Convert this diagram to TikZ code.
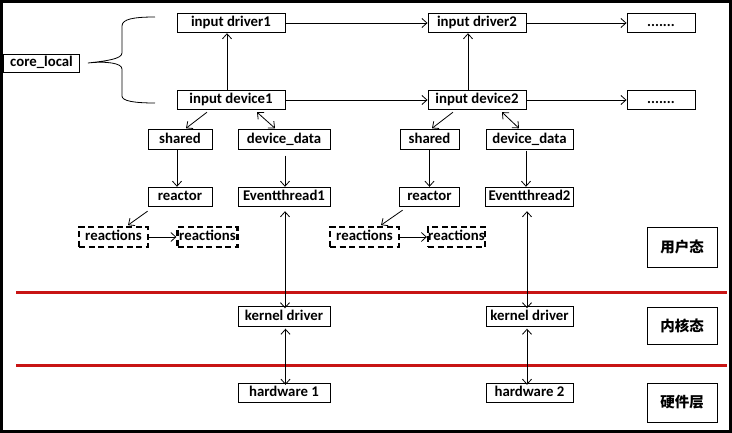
\documentclass[tikz,border=0pt]{standalone}
\usepackage{fontspec}
\setmainfont{Carlito}
\newfontfamily\cjk{Noto Sans CJK SC}
\usetikzlibrary{positioning}
\usetikzlibrary{arrows.meta}

\begin{document}
\begin{tikzpicture}[x=1pt, y=-1pt, line width=0.8pt, >={Straight Barb[length=5pt,width=9pt]},
        box/.style={draw, line width=0.9pt, inner sep=0pt, minimum height=19.5pt, text height=10.5pt, text depth=3pt, font=\bfseries\fontsize{14.8}{16}\selectfont},
        dbox/.style={box, dash pattern=on 6pt off 3.5pt, line width=2.2pt},
        layer/.style={draw, line width=0.9pt, inner sep=0pt, minimum width=70pt, font=\cjk\bfseries\fontsize{14.5}{16}\selectfont},
        sep/.style={draw={rgb,255:red,200;green,20;blue,20}, line width=3pt}]
            \useasboundingbox (0,0) rectangle (732,433);
            \draw[line width=3pt] (1.5,1.5) rectangle (730.5,431.5);
            % user space
            \node[box, minimum width=108pt] (drv1) at (231,23) {input driver1};
            \node[box, minimum width=98pt] (drv2) at (477,23) {input driver2};
            \node[box, minimum width=68pt] (drvn) at (661,23) {.......};
            \node[box, minimum width=108pt] (dev1) at (231,100) {input device1};
            \node[box, minimum width=98pt] (dev2) at (477,100) {input device2};
            \node[box, minimum width=68pt] (devn) at (661,100) {.......};
            \node[box, minimum width=76pt, minimum height=18pt] (core) at (41.5,63) {core\_local};
            \coordinate (tip) at ([xshift=8pt]core.east);
            \node[box, minimum width=64pt] (shr1) at (180,139.5) {shared};
            \node[box, minimum width=92pt] (dat1) at (284,139.5) {device\_data};
            \node[box, minimum width=59pt] (shr2) at (429.5,139.5) {shared};
            \node[box, minimum width=87pt] (dat2) at (529.5,139.5) {device\_data};
            \node[box, minimum width=64pt] (rct1) at (180,197) {reactor};
            \node[box, minimum width=92pt] (evt1) at (284,197) {Eventthread1};
            \node[box, minimum width=60pt] (rct2) at (429.5,197) {reactor};
            \node[box, minimum width=88pt] (evt2) at (529.5,197) {Eventthread2};
            \node[dbox, minimum width=69pt] (rcs1a) at (113.5,237) {reactions};
            \node[dbox, minimum width=60pt] (rcs1b) at (207.5,237) {reactions};
            \node[dbox, minimum width=69pt] (rcs2a) at (364.5,237) {reactions};
            \node[dbox, minimum width=57pt] (rcs2b) at (456.5,237) {reactions};
            % kernel and hardware
            \node[box, minimum width=92pt] (krn1) at (284,316.5) {kernel driver};
            \node[box, minimum width=87pt] (krn2) at (529.5,316.5) {kernel driver};
            \node[box, minimum width=92pt] (hw1) at (284,393) {hardware 1};
            \node[box, minimum width=87pt] (hw2) at (529.5,393) {hardware 2};
            % layer labels
            \node[layer, minimum height=40pt] (usr) at (682,247) {用户态};
            \node[layer, minimum height=37pt] (knl) at (682,325.5) {内核态};
            \node[layer, minimum height=39pt] (hwl) at (682,402.5) {硬件层};
            \coordinate (sepa) at (16,292.3);
            \coordinate (sepb) at (16,365);
            \draw[sep] (sepa) -- (sepa -| 727,0);
            \draw[sep] (sepb) -- (sepb -| 727,0);
            % brace
            \draw (155,17) .. controls (134,17) and (122,19) .. (122,26) -- (122,53) .. controls (122,59) and (106,61) .. (tip) .. controls (106,61) and (122,63) .. (122,69) -- (122,96) .. controls (122,101) and (134,103) .. (155,103);
            \draw[->] (drv1) -- (drv2);
            \draw[->] (drv2) -- (drvn);
            \draw[->] (dev1) -- (dev2);
            \draw[->] (dev2) -- (devn);
            \draw[->] ([xshift=-4pt]dev1.north) -- ([xshift=-4pt]drv1.south);
            \draw[->] ([xshift=-9pt]dev2.north) -- ([xshift=-9pt]drv2.south);
            \draw[->] ([xshift=-24pt,yshift=-2pt]dev1.south) -- ([xshift=6pt,yshift=1pt]shr1.north);
            \draw[<->] ([xshift=26pt,yshift=-2pt]dev1.south) -- ([xshift=-9pt,yshift=1pt]dat1.north);
            \draw[->] ([xshift=-24pt,yshift=-2pt]dev2.south) -- ([xshift=2.5pt,yshift=1pt]shr2.north);
            \draw[<->] ([xshift=25pt,yshift=-2pt]dev2.south) -- ([xshift=-10.5pt,yshift=1pt]dat2.north);
            \draw[->] ([xshift=-3pt]shr1.south) -- ([xshift=-3pt]rct1.north);
            \draw[->] ([xshift=1pt,yshift=-6pt]dat1.south) -- ([xshift=1pt]evt1.north);
            \draw[->] (shr2) -- (rct2);
            \draw[->] ([xshift=-3.5pt,yshift=-1pt]dat2.south) -- ([xshift=-3.5pt]evt2.north);
            \draw[->] ([yshift=-4pt]rct1.south west) -- ([xshift=14.5pt,yshift=1pt]rcs1a.north);
            \draw[->] ([xshift=3.5pt,yshift=-3pt]rct2.south west) -- ([xshift=16.5pt,yshift=1pt]rcs2a.north);
            \draw[->] (rcs1a) -- (rcs1b);
            \draw[->] (rcs2a) -- (rcs2b);
            \draw[<->] ([xshift=1pt,yshift=-4pt]evt1.south) -- ([xshift=1pt,yshift=-2pt]krn1.north);
            \draw[<->] ([xshift=1.5pt,yshift=-2pt]krn1.south) -- ([xshift=1.5pt,yshift=-2pt]hw1.north);
            \draw[<->] ([xshift=-2.5pt,yshift=-4pt]evt2.south) -- ([xshift=-2.5pt,yshift=-2pt]krn2.north);
            \draw[<->] ([xshift=-2.5pt,yshift=-2pt]krn2.south) -- ([xshift=-2.5pt,yshift=-2pt]hw2.north);
        \end{tikzpicture}
\end{document}
